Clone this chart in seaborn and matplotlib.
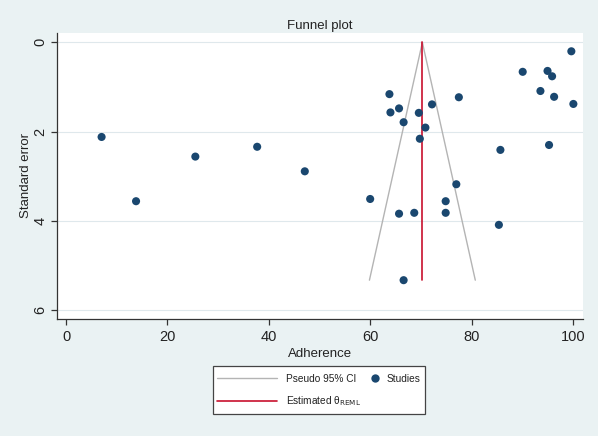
import numpy as np
import pandas as pd
import matplotlib
matplotlib.use("Agg")
import matplotlib.pyplot as plt
import seaborn as sns
from matplotlib.lines import Line2D
from matplotlib.patches import Rectangle

# -------- DATA --------
adherence = [7.0, 13.8, 25.5, 37.7, 47.1,
             60.0, 63.8, 64.0, 65.7, 66.6, 65.7, 68.7, 66.6,
             69.6, 69.8, 70.9, 72.2, 77.5, 77.0, 74.9, 74.9,
             85.7, 85.4, 90.1, 95.0, 95.9, 93.6, 96.3, 99.7, 100.1, 95.3]
std_error = [2.12, 3.56, 2.56, 2.34, 2.89,
             3.51, 1.16, 1.57, 1.48, 1.79, 3.84, 3.82, 5.33,
             1.58, 2.16, 1.91, 1.39, 1.23, 3.18, 3.56, 3.82,
             2.41, 4.09, 0.66, 0.64, 0.76, 1.09, 1.22, 0.20, 1.38, 2.30]
theta_reml = 70.3
se_max = 5.33

x_ticks = [0, 20, 40, 60, 80, 100]
y_ticks = [0, 2, 4, 6]

df = pd.DataFrame({"Adherence": adherence, "Standard error": std_error})

# -------- STYLE --------
sns.set_style("white")
plt.rcParams["font.family"] = ["Liberation Sans", "DejaVu Sans"]

bg = "#eaf2f3"
navy = "#1a476f"
ci_gray = "#b4b4b4"
red = "#c8102e"

fig = plt.figure(figsize=(5.98, 4.36), dpi=100, facecolor=bg)
ax = fig.add_axes([57 / 598, 1 - 319 / 436, (583 - 57) / 598, (319 - 33) / 436])
ax.set_facecolor("white")

# gridlines
for yt in y_ticks:
    ax.axhline(yt, color="#dfe8ec", linewidth=0.8, zorder=0)

# pseudo 95% CI funnel
se_line = np.array([0, se_max])
ax.plot(theta_reml - 1.96 * se_line, se_line, color=ci_gray, linewidth=1.0, zorder=1)
ax.plot(theta_reml + 1.96 * se_line, se_line, color=ci_gray, linewidth=1.0, zorder=1)
# estimated theta
ax.plot([theta_reml, theta_reml], [0, se_max], color=red, linewidth=1.2, zorder=2)

sns.scatterplot(data=df, x="Adherence", y="Standard error", ax=ax,
                color=navy, s=34, edgecolor="none", zorder=3, legend=False)

ax.set_xlim(-1.8, 102)
ax.set_ylim(6.2, -0.21)
ax.set_xticks(x_ticks)
ax.set_yticks(y_ticks)
ax.tick_params(axis="both", direction="out", length=4, width=0.9, color="#333333",
               labelsize=10.5, labelcolor="#222222", left=True, bottom=True)
for lab in ax.get_yticklabels():
    lab.set_rotation(90)
    lab.set_va("center")
ax.tick_params(axis="y", pad=3)
ax.tick_params(axis="x", pad=4)

for side in ["top", "right"]:
    ax.spines[side].set_visible(False)
for side in ["left", "bottom"]:
    ax.spines[side].set_color("#333333")
    ax.spines[side].set_linewidth(0.9)

ax.set_xlabel("Adherence", fontsize=9.5, color="#222222", labelpad=3)
ax.set_ylabel("Standard error", fontsize=9.5, color="#222222", labelpad=1)
ax.set_title("Funnel plot", fontsize=9.5, color="#222222", pad=3)

# -------- LEGEND --------
box = Rectangle((213 / 598, 1 - 414 / 436), (425 - 213) / 598, (414 - 366) / 436,
                transform=fig.transFigure, facecolor="white", edgecolor="#444444",
                linewidth=0.9, zorder=5)
fig.patches.append(box)

h_ci = Line2D([], [], color=ci_gray, linewidth=1.0)
h_th = Line2D([], [], color=red, linewidth=1.2)
h_st = Line2D([], [], color=navy, marker="o", linestyle="none", markersize=6,
              markeredgecolor="none")

leg1 = fig.legend([h_ci, h_th], ["Pseudo 95% CI", r"Estimated θ$_{\mathrm{REML}}$"],
                  loc="upper left", bbox_to_anchor=(217 / 598, 1 - 374 / 436),
                  frameon=False, fontsize=7.3, handlelength=5.9, handletextpad=0.9,
                  labelspacing=1.0, borderpad=0, borderaxespad=0)
leg2 = fig.legend([h_st], ["Studies"],
                  loc="upper left", bbox_to_anchor=(370 / 598, 1 - 374 / 436),
                  frameon=False, fontsize=7.3, handlelength=1.0, handletextpad=0.6,
                  borderpad=0, borderaxespad=0)
for leg in (leg1, leg2):
    leg.set_zorder(6)
    for t in leg.get_texts():
        t.set_color("#222222")

fig.savefig("out.png", dpi=100, facecolor=bg)
